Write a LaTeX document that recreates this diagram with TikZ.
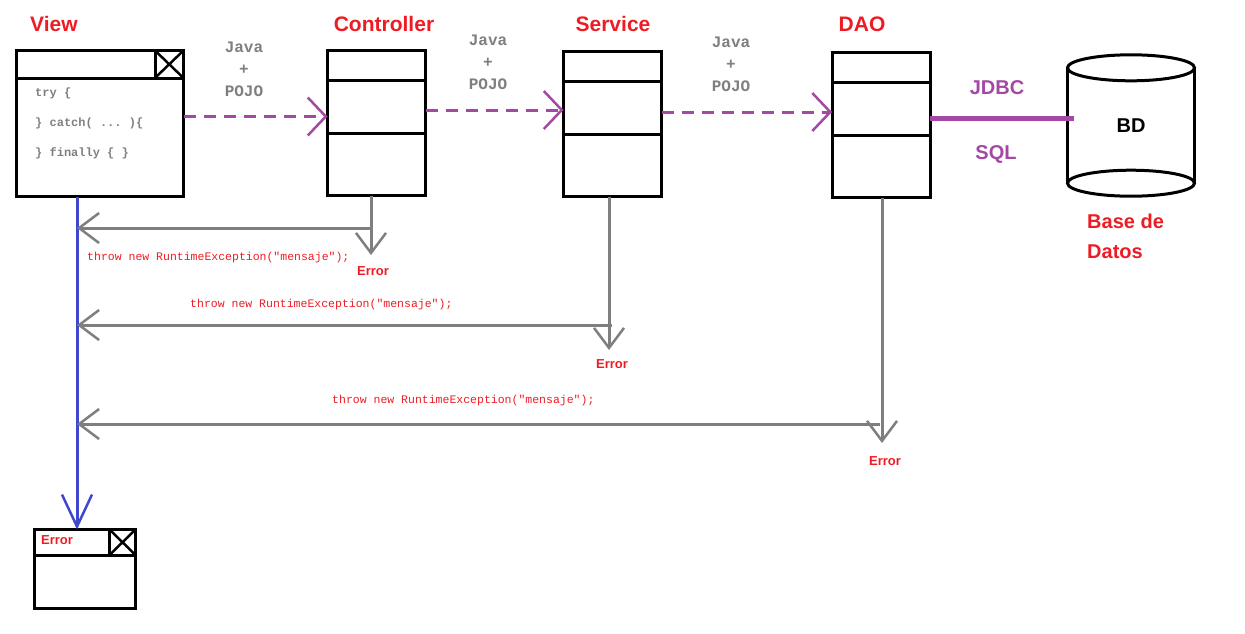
\documentclass[tikz,border=0pt]{standalone}
\usepackage{fontspec}
\setmainfont{Liberation Sans}
\setmonofont{Liberation Mono}
\usepackage{tikz}
\usetikzlibrary{arrows.meta,positioning,calc}

\definecolor{pred}{HTML}{ED1C24}
\definecolor{ppurple}{HTML}{A349A4}
\definecolor{pgray}{HTML}{7F7F7F}
\definecolor{pblue}{HTML}{3F48CC}

\begin{document}
\begin{tikzpicture}[x=1pt, y=-1pt,
    title/.style={font=\fontsize{21}{24}\selectfont\bfseries, text=pred, inner sep=0},
    layer/.style={draw, line width=3pt, outer sep=0, inner sep=0,
      minimum width=98pt, minimum height=145pt},
    win/.style={draw, line width=3pt, outer sep=0, inner sep=0},
    code/.style={font=\fontsize{12}{30}\selectfont\ttfamily\bfseries, text=pgray,
      align=left, inner sep=0},
    carry/.style={font=\fontsize{16}{22}\selectfont\ttfamily\bfseries, text=pgray,
      align=center, inner sep=0},
    pojo/.style={draw=ppurple, line width=3pt, dash pattern=on 12pt off 8pt,
      -{Straight Barb[length=18pt, width=38pt, line width=2.5pt]}},
    throw/.style={draw=pgray, line width=3pt,
      -{Straight Barb[length=20pt, width=30pt, line width=2.5pt]}},
    fail/.style={draw=pblue, line width=3pt,
      -{Straight Barb[length=32pt, width=30pt, line width=2.5pt]}},
    excmsg/.style={font=\fontsize{11.5}{14}\selectfont\ttfamily, text=pred, inner sep=0},
    errlbl/.style={font=\fontsize{13}{15}\selectfont\bfseries, text=pred, inner sep=0},
    link/.style={font=\fontsize{20}{24}\selectfont\bfseries, text=ppurple, inner sep=0}
  ]
  \useasboundingbox (0,0) rectangle (1245,633);

  % windows and layers
  \node[win, minimum width=167pt, minimum height=146pt] (view) at (100,123.5) {};
  \node[layer] (ctrl) at (376.5,123) {};
  \node[layer] (serv) at (612.5,124) {};
  \node[layer] (dao) at (881,125) {};
  \node[win, minimum width=101pt, minimum height=79pt] (errwin) at (85,569) {};

  \node[title, anchor=west] (viewlbl) at (30,24) {View};
  \node[title] (ctrllbl) at (384,24) {Controller};
  \node[title] (servlbl) at (613,24) {Service};
  \node[title] (daolbl) at (862,24) {DAO};

  % title bars
  \draw[line width=3pt] ([yshift=-27.5pt]view.north west) -- ([yshift=-27.5pt]view.north east);
  \draw[line width=3pt] ([xshift=-28.5pt]view.north east) rectangle ([yshift=-27.5pt]view.north east);
  \draw[line width=2.5pt] ([xshift=-28.5pt]view.north east) -- ([yshift=-27.5pt]view.north east)
    ([xshift=-28.5pt,yshift=-27.5pt]view.north east) -- (view.north east);
  \draw[line width=3pt] ([yshift=-25.5pt]errwin.north west) -- ([yshift=-25.5pt]errwin.north east);
  \draw[line width=3pt] ([xshift=-26pt]errwin.north east) rectangle ([yshift=-25.5pt]errwin.north east);
  \draw[line width=2.5pt] ([xshift=-26pt]errwin.north east) -- ([yshift=-25.5pt]errwin.north east)
    ([xshift=-26pt,yshift=-25.5pt]errwin.north east) -- (errwin.north east);
  \node[errlbl, anchor=west] (errtitle) at (41,540) {Error};

  \foreach \n in {ctrl,serv,dao} {
    \draw[line width=3pt] ([yshift=-29.5pt]\n.north west) -- ([yshift=-29.5pt]\n.north east);
    \draw[line width=3pt] ([yshift=-82.5pt]\n.north west) -- ([yshift=-82.5pt]\n.north east);
  }

  \node[code, anchor=north west] (trycode) at (35,88)
    {try \{\\\} catch( ... )\{\\\} finally \{ \}};

  % database
  \node[inner sep=0, minimum width=127pt, minimum height=115pt,
    font=\fontsize{20}{24}\selectfont\bfseries] (bd) at (1131,125.5) {BD};
  \draw[line width=3pt] (bd.north west) -- (bd.south west)
    (bd.north east) -- (bd.south east);
  \draw[line width=3pt] (bd.north) ellipse [x radius=63.5pt, y radius=13pt];
  \draw[line width=3pt] (bd.south) ellipse [x radius=63.5pt, y radius=13pt];
  \node[title, font=\fontsize{20}{30}\selectfont\bfseries, align=left, anchor=north west]
    (bdlbl) at (1087,214) {Base de\\Datos};

  % calls
  \coordinate (call1) at ([yshift=7pt]view.east);
  \coordinate (call2) at ([yshift=13pt]ctrl.east);
  \coordinate (call3) at ([yshift=12pt]serv.east);
  \coordinate (sqlout) at ([yshift=7pt]dao.east);
  \draw[pojo] (call1) -- (call1 -| ctrl.west);
  \draw[pojo] (call2) -- (call2 -| serv.west);
  \draw[pojo] (call3) -- (call3 -| dao.west);
  \node[carry] (pojo1) at (244,69) {Java\\+\\POJO};
  \node[carry] (pojo2) at (488,62) {Java\\+\\POJO};
  \node[carry] (pojo3) at (731,64) {Java\\+\\POJO};

  \draw[draw=ppurple, line width=5pt] (sqlout) -- ([xshift=7pt]sqlout -| bd.west);
  \node[link] (jdbc) at (997,88) {JDBC};
  \node[link] (sql) at (996,154) {SQL};

  % exceptions
  \coordinate (vl) at ([xshift=-23pt]view.south);
  \draw[fail] (vl) -- (vl |- errwin.north);

  \coordinate (ctrlerr) at (371,255);
  \coordinate (ctrlret) at (371,228);
  \draw[throw] (ctrl.south -| ctrlerr) -- (ctrlerr);
  \draw[throw] (ctrlret) -- (ctrlret -| vl);
  \node[excmsg, anchor=west] (msg1) at (87,258) {throw new RuntimeException("mensaje");};
  \node[errlbl] (err1) at (373,271) {Error};

  \coordinate (serverr) at (609,350);
  \coordinate (servret) at (612,325);
  \draw[throw] (serv.south -| serverr) -- (serverr);
  \draw[throw] (servret) -- (servret -| vl);
  \node[excmsg, anchor=west] (msg2) at (190,305) {throw new RuntimeException("mensaje");};
  \node[errlbl] (err2) at (612,364) {Error};

  \coordinate (daoerr) at (882,443);
  \coordinate (daoret) at (880,424);
  \draw[throw] (dao.south -| daoerr) -- (daoerr);
  \draw[throw] (daoret) -- (daoret -| vl);
  \node[excmsg, anchor=west] (msg3) at (332,401) {throw new RuntimeException("mensaje");};
  \node[errlbl] (err3) at (885,461) {Error};
\end{tikzpicture}
\end{document}
